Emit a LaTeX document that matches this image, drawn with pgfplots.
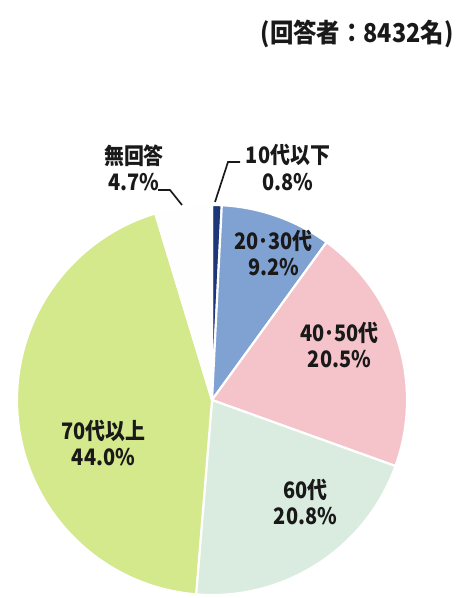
\documentclass[border=0pt]{standalone}
\usepackage{pgfplots}
\usepackage{pgfplotstable}
\pgfplotsset{compat=1.18}
\usepackage{fontspec}
\setmainfont{Noto Sans CJK JP}
\definecolor{cTen}{RGB}{30,55,120}
\definecolor{cTwenty}{RGB}{128,162,210}
\definecolor{cForty}{RGB}{245,196,202}
\definecolor{cSixty}{RGB}{218,236,224}
\definecolor{cSeventy}{RGB}{212,232,140}
\definecolor{cNone}{RGB}{254,254,254}
\definecolor{txt}{RGB}{25,25,25}
\pgfplotstableread{
pct color
0.8 cTen
9.2 cTwenty
20.5 cForty
20.8 cSixty
44.0 cSeventy
4.7 cNone
}\piedata
\begin{document}
\begin{tikzpicture}
\def\R{117pt}
\begin{axis}[x=0.6pt, y=0.6pt, xmin=0, xmax=458, ymin=0, ymax=598, hide axis, scale only axis]
\pgfplotsextra{%
  \gdef\cum{0}%
  \pgfplotstableforeachcolumnelement{pct}\of\piedata\as\p{%
    \pgfplotstablegetelem{\pgfplotstablerow}{color}\of\piedata
    \let\col\pgfplotsretval
    \pgfmathsetmacro\a{90-3.6*\cum}%
    \pgfmathsetmacro\cumn{\cum+\p}%
    \pgfmathsetmacro\b{90-3.6*\cumn}%
    \fill[fill=\col, draw=white, line width=1.3pt, line join=round] (axis cs:212,198) -- ++(\a:\R) arc[start angle=\a, end angle=\b, radius=\R] -- cycle;
    \global\let\cum\cumn
  }%
}
\begin{scope}[every node/.style={text=txt, align=center, xscale=0.88, transform shape, font=\bfseries\fontsize{13.6}{15.8}\selectfont}]
\node at (axis cs:134,430) {無回答\\4.7\%};
\node at (axis cs:288,430.5) {10代以下\\0.8\%};
\node at (axis cs:273.5,345) {20･30代\\9.2\%};
\node at (axis cs:339.5,253) {40･50代\\20.5\%};
\node at (axis cs:103.5,155) {70代以上\\44.0\%};
\node at (axis cs:305.5,96) {60代\\20.8\%};
\end{scope}
\node[text=txt, xscale=0.9, transform shape, font=\bfseries\fontsize{15.6}{17}\selectfont] at (axis cs:357,564) {(回答者：8432名)};
\draw[txt, line width=1pt] (axis cs:158,408) -- (axis cs:170,408) -- (axis cs:182,393);
\draw[txt, line width=1pt] (axis cs:215,396) -- (axis cs:228,436) -- (axis cs:240,436);
\end{axis}
\pgfresetboundingbox
\useasboundingbox (current axis.south west) rectangle (current axis.north east);
\end{tikzpicture}
\end{document}
